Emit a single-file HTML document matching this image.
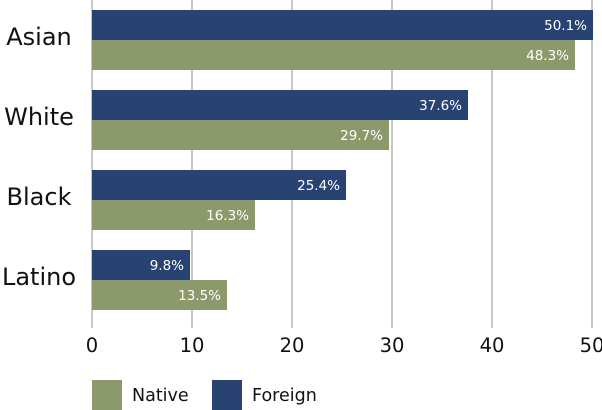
<!DOCTYPE html>
<html><head><meta charset="utf-8"><style>
body{margin:0;background:#fff;}
svg{display:block;font-family:"DejaVu Sans","Liberation Sans",sans-serif;}
</style></head><body>
<svg id="chart" width="602" height="410"></svg>
<script>
const categories=["Asian","White","Black","Latino"];
const foreignValues=[50.1,37.6,25.4,9.8];
const nativeValues=[48.3,29.7,16.3,13.5];
const tickValues=[0,10,20,30,40,50];
const NS="http://www.w3.org/2000/svg";
const svg=document.getElementById("chart");
const x0=92,pxPer=10;
const xs=v=>x0+v*pxPer;
const yCat=i=>10+i*80;
function mk(t,a){const e=document.createElementNS(NS,t);for(const k in a)e.setAttribute(k,a[k]);svg.appendChild(e);return e;}
tickValues.forEach(t=>{
  const l=mk("line",{x1:xs(t),x2:xs(t),y1:0,y2:328,stroke:"#c8c8c8","stroke-width":2});
  
  
  const tx=mk("text",{x:xs(t),y:352,"text-anchor":"middle","font-size":19.5,fill:"#111"});
  tx.textContent=t;
  
  
});
categories.forEach((c,i)=>{
  const y=yCat(i);
  const lab=mk("text",{x:39,y:y+35,"text-anchor":"middle","font-size":24,fill:"#111"});
  lab.textContent=c;
  
  
  [[foreignValues[i],"#284372",y,"bar-foreign"],[nativeValues[i],"#8c9a6b",y+30,"bar-native"]].forEach(([v,col,by,nm])=>{
    const r=mk("rect",{x:x0,y:by,width:v*pxPer,height:30,fill:col});
    
    
    const t=mk("text",{x:xs(v)-6,y:by+20,"text-anchor":"end","font-size":13.5,fill:"#fff"});
    t.textContent=v.toFixed(1)+"%";
    
    
  });
});
[["Native","#8c9a6b",92],["Foreign","#284372",212]].forEach(([n,col,lx])=>{
  const r=mk("rect",{x:lx,y:380,width:30,height:30,fill:col});
  
  
  const t=mk("text",{x:lx+40,y:401,"font-size":17.5,fill:"#111"});
  t.textContent=n;
  
  
});
</script>
</body></html>
